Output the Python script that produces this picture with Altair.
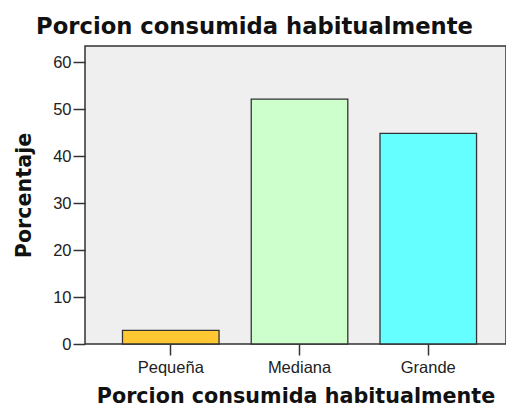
import altair as alt
import pandas as pd

categories = ["Pequeña", "Mediana", "Grande"]
percentages = [2.9, 52.2, 44.9]
bar_colors = ["#FFC833", "#CCFFCC", "#66FFFF"]
y_ticks = [0, 10, 20, 30, 40, 50, 60]

df = pd.DataFrame({"cat": categories, "val": percentages})

chart = (
    alt.Chart(df)
    .mark_bar(stroke="#333333", strokeWidth=1.3)
    .encode(
        x=alt.X(
            "cat:N",
            sort=categories,
            scale=alt.Scale(paddingInner=0.25, paddingOuter=0.26, align=0.56),
            axis=alt.Axis(
                title="Porcion consumida habitualmente",
                labelAngle=0,
                labelFont="Liberation Sans",
                labelFontSize=16.5,
                labelColor="#222222",
                labelPadding=4,
                tickSize=11,
                tickWidth=1.5,
                tickColor="#333333",
                domain=False,
                titleFont="DejaVu Sans",
                titleFontWeight="bold",
                titleFontSize=20.7,
                titleColor="#111111",
                titleBaseline="alphabetic",
                titleY=58,
            ),
        ),
        y=alt.Y(
            "val:Q",
            scale=alt.Scale(domain=[0, 63.5], nice=False),
            axis=alt.Axis(
                title="Porcentaje",
                values=y_ticks,
                grid=False,
                labelFont="Liberation Sans",
                labelFontSize=16.5,
                labelColor="#222222",
                labelPadding=2,
                tickSize=12,
                tickWidth=1.5,
                tickColor="#333333",
                domain=False,
                titleFont="DejaVu Sans",
                titleFontWeight="bold",
                titleFontSize=20.7,
                titleColor="#111111",
                titleBaseline="alphabetic",
                titleX=-55,
            ),
        ),
        color=alt.Color(
            "cat:N",
            scale=alt.Scale(domain=categories, range=bar_colors),
            legend=None,
        ),
    )
    .properties(
        width=421,
        height=298,
        title=alt.TitleParams(
            "Porcion consumida habitualmente",
            font="DejaVu Sans",
            fontWeight="bold",
            fontSize=22.7,
            color="#111111",
            anchor="middle",
            dx=-41,
            dy=-3,
        ),
        autosize=alt.AutoSizeParams(type="none"),
        padding={"left": 77, "top": 38, "right": 0, "bottom": 66},
    )
    .configure_view(fill="#EFEFEF", stroke="#333333", strokeWidth=1.5)
)

chart.save("out.html", embed_options={"renderer": "svg", "actions": False})
